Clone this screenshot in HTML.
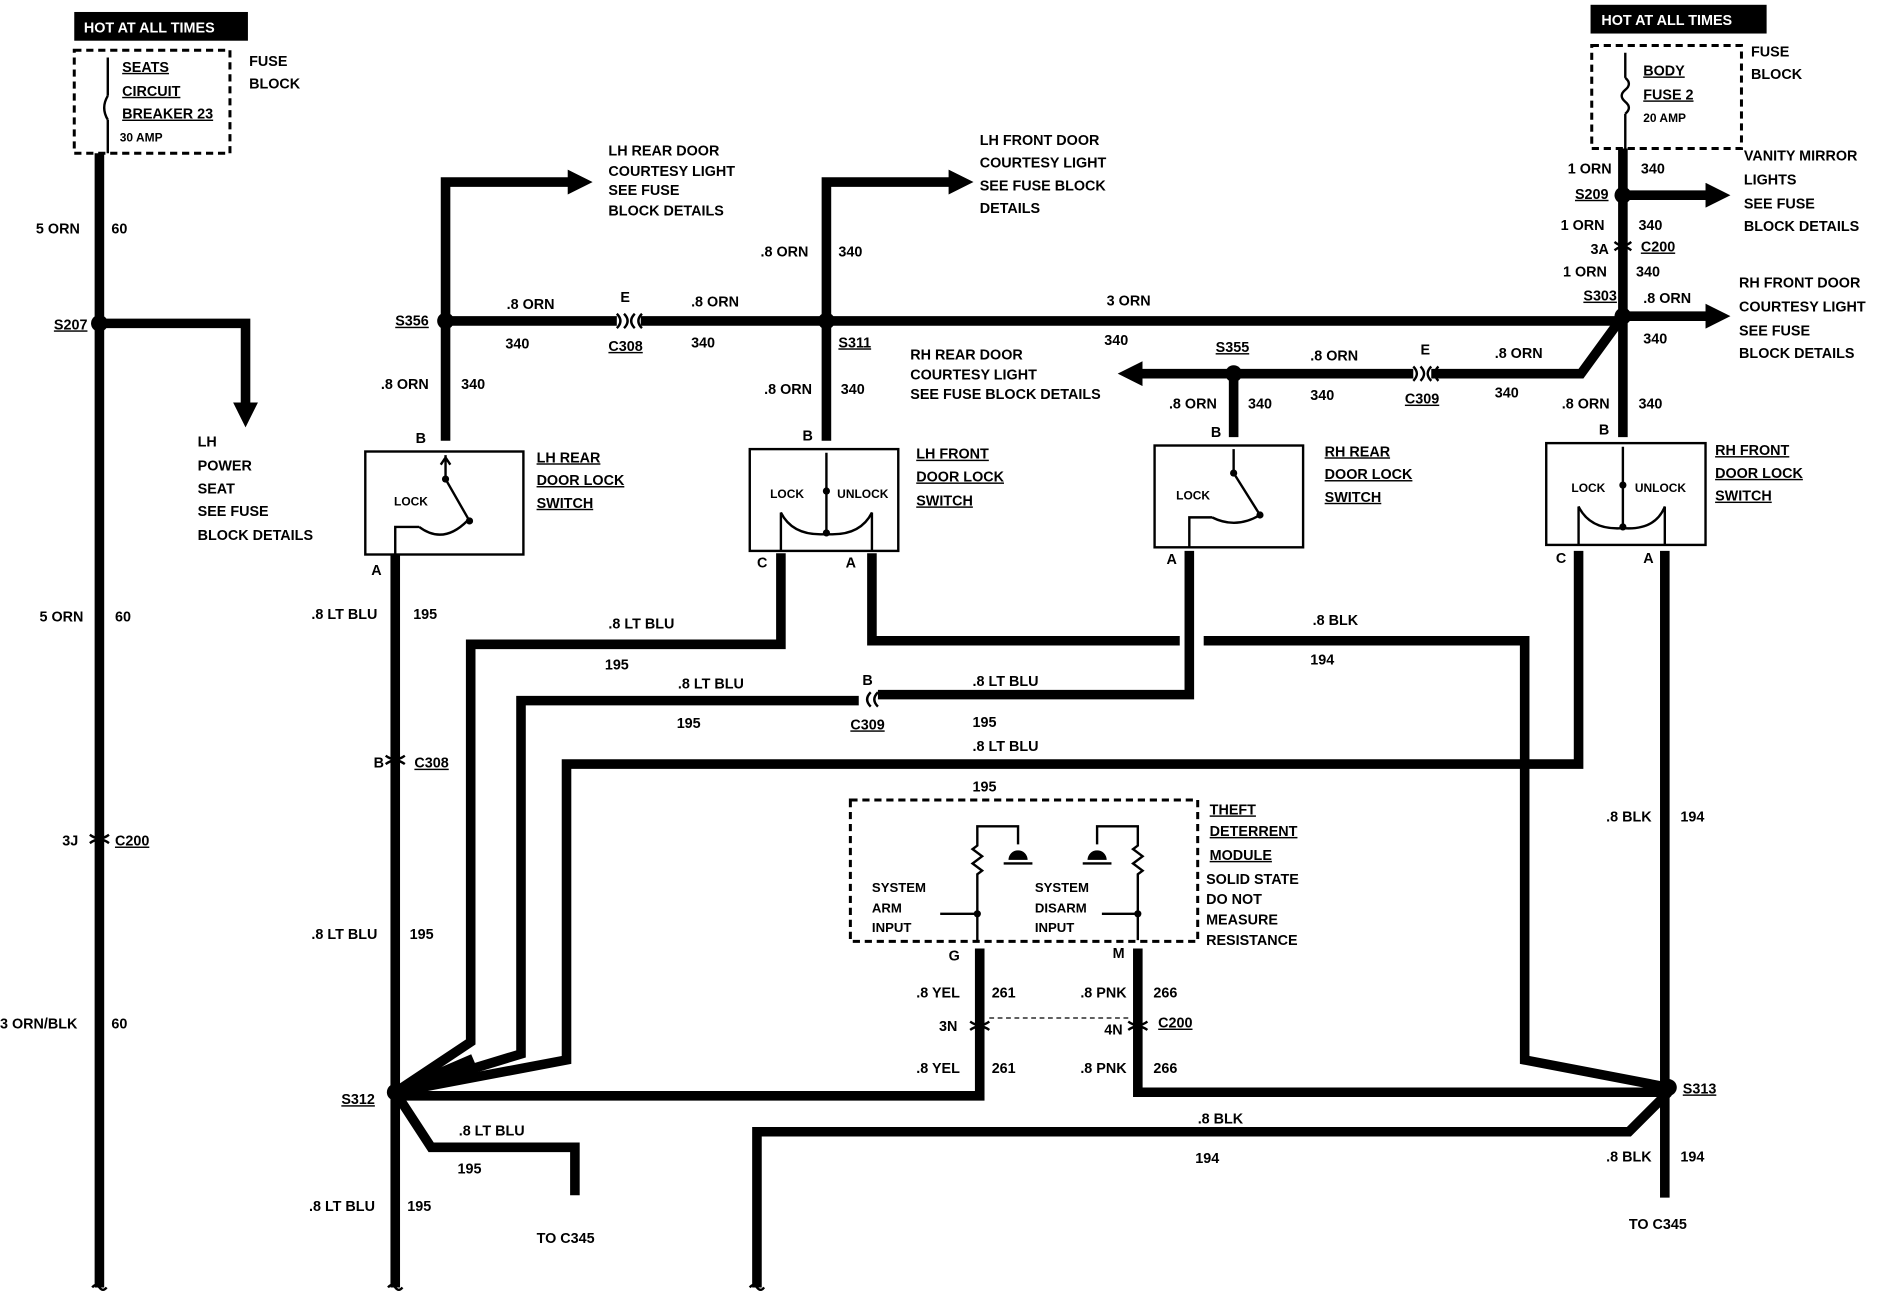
<!DOCTYPE html>
<html><head><meta charset="utf-8"><style>
html,body{margin:0;padding:0;background:#fff;}
svg{display:block;}
text{font-family:"Liberation Sans",sans-serif;font-weight:bold;font-size:12px;fill:#000;}
.w{stroke:#000;stroke-width:8;fill:none;stroke-linejoin:miter;}
.t{stroke:#000;stroke-width:2;fill:none;}
.d{stroke:#000;stroke-width:2.5;fill:none;stroke-dasharray:6 4;}
.u{text-decoration:underline;}
</style></head><body>
<svg width="1878" height="1312" viewBox="0 0 1568 1095.5" preserveAspectRatio="none" xmlns="http://www.w3.org/2000/svg">
<defs>
<marker id="ar" markerWidth="2.6" markerHeight="2.6" refX="0.5" refY="1.3" orient="auto" markerUnits="strokeWidth"><path d="M0,0 L2.6,1.3 L0,2.6 z" fill="#000"/></marker>
</defs>
<!-- left fuse -->
<rect x="62" y="10" width="145" height="24" fill="#000"/>
<text x="70" y="27" style="fill:#fff">HOT AT ALL TIMES</text>
<rect x="62" y="42" width="130" height="86" class="d"/>
<path class="t" d="M90,48 V80 M90,100 V128"/>
<path class="t" d="M90,80 q-6,10 0,20"/>
<text x="102" y="60" class="u">SEATS</text><text x="102" y="80" class="u">CIRCUIT</text><text x="102" y="99" class="u">BREAKER 23</text>
<text x="100" y="118" style="font-size:10px">30 AMP</text>
<text x="208" y="55">FUSE</text><text x="208" y="74">BLOCK</text>
<path class="w" d="M83,128 V1075"/>
<circle cx="83" cy="270" r="7"/>
<text x="45" y="275" class="u">S207</text>
<path class="w" d="M83,270 H205 V340" marker-end="url(#ar)"/>
<text x="30" y="195">5 ORN</text><text x="93" y="195">60</text>
<text x="165" y="373">LH</text><text x="165" y="393">POWER</text><text x="165" y="412">SEAT</text><text x="165" y="431">SEE FUSE</text><text x="165" y="451">BLOCK DETAILS</text>
<text x="33" y="519">5 ORN</text><text x="96" y="519">60</text>
<text x="52" y="706">3J</text><text x="96" y="706" class="u">C200</text>
<path class="t" d="M75,697 q8,6 16,0 M75,704 q8,-6 16,0"/>
<text x="0" y="859">3 ORN/BLK</text><text x="93" y="859">60</text>
<!-- right fuse -->
<rect x="1328" y="4" width="147" height="24" fill="#000"/>
<text x="1337" y="21" style="fill:#fff">HOT AT ALL TIMES</text>
<rect x="1329" y="38" width="125" height="86" class="d"/>
<path class="t" d="M1357,44 V65 M1357,95 V124"/><path class="t" d="M1357,65 q6,5 0,10 q-6,5 0,10 q6,5 0,10"/>
<text x="1372" y="63" class="u">BODY</text><text x="1372" y="83" class="u">FUSE 2</text><text x="1372" y="102" style="font-size:10px">20 AMP</text>
<text x="1462" y="47">FUSE</text><text x="1462" y="66">BLOCK</text>
<path class="w" d="M1355,124 V365"/>
<circle cx="1355" cy="163" r="7"/>
<path class="w" d="M1355,163 H1428" marker-end="url(#ar)"/>
<text x="1309" y="145">1 ORN</text><text x="1370" y="145">340</text>
<text x="1315" y="166" class="u">S209</text>
<text x="1456" y="134">VANITY MIRROR</text><text x="1456" y="154">LIGHTS</text><text x="1456" y="174">SEE FUSE</text><text x="1456" y="193">BLOCK DETAILS</text>
<text x="1303" y="192">1 ORN</text><text x="1368" y="192">340</text>
<text x="1328" y="212">3A</text><text x="1370" y="210" class="u">C200</text>
<path class="t" d="M1348,202 q7,6 14,0 M1348,209 q7,-6 14,0"/>
<text x="1305" y="231">1 ORN</text><text x="1366" y="231">340</text>
<text x="1322" y="251" class="u">S303</text>
<circle cx="1355" cy="264" r="7"/>
<path class="w" d="M1355,264 H1428" marker-end="url(#ar)"/>
<text x="1372" y="253">.8 ORN</text><text x="1372" y="287">340</text>
<text x="1452" y="240">RH FRONT DOOR</text><text x="1452" y="260">COURTESY LIGHT</text><text x="1452" y="280">SEE FUSE</text><text x="1452" y="299">BLOCK DETAILS</text>
<!-- main horizontal -->
<path class="w" d="M372,268 H515 M535,268 H1355"/>
<path class="t" d="M515,262 q6,6 0,12 M521,262 q6,6 0,12 M530,262 q-6,6 0,12 M536,262 q-6,6 0,12"/>
<circle cx="372" cy="268" r="7"/><circle cx="690" cy="268" r="7"/>
<text x="330" y="272" class="u">S356</text><text x="700" y="290" class="u">S311</text>
<text x="423" y="258">.8 ORN</text><text x="518" y="252">E</text><text x="577" y="256">.8 ORN</text>
<text x="422" y="291">340</text><text x="508" y="293" class="u">C308</text><text x="577" y="290">340</text>
<text x="924" y="255">3 ORN</text>
<path class="w" d="M372,268 V152 H478" marker-end="url(#ar)"/>
<text x="508" y="130">LH REAR DOOR</text><text x="508" y="147">COURTESY LIGHT</text><text x="508" y="163">SEE FUSE</text><text x="508" y="180">BLOCK DETAILS</text>
<path class="w" d="M690,268 V152 H796" marker-end="url(#ar)"/>
<text x="635" y="214">.8 ORN</text><text x="700" y="214">340</text>
<text x="818" y="121">LH FRONT DOOR</text><text x="818" y="140">COURTESY LIGHT</text><text x="818" y="159">SEE FUSE BLOCK</text><text x="818" y="178">DETAILS</text>
<!-- S355 -->
<path class="w" d="M1355,264 L1320,312 H1195 M1180,312 H950" marker-end="url(#ar)"/>
<path class="t" d="M1180,306 q6,6 0,12 M1186,306 q6,6 0,12 M1195,306 q-6,6 0,12 M1201,306 q-6,6 0,12"/>
<circle cx="1030" cy="312" r="7"/>
<text x="1015" y="294" class="u">S355</text>
<text x="1094" y="301">.8 ORN</text><text x="1186" y="296">E</text><text x="1248" y="299">.8 ORN</text>
<text x="1094" y="334">340</text><text x="1173" y="337" class="u">C309</text><text x="1248" y="332">340</text>
<text x="922" y="288">340</text>
<text x="760" y="300">RH REAR DOOR</text><text x="760" y="317">COURTESY LIGHT</text><text x="760" y="333">SEE FUSE BLOCK DETAILS</text>
<!-- verticals to switches -->
<path class="w" d="M372,268 V368 M690,268 V368 M1030,312 V365"/>
<text x="318" y="325">.8 ORN</text><text x="385" y="325">340</text>
<text x="638" y="329">.8 ORN</text><text x="702" y="329">340</text>
<text x="976" y="341">.8 ORN</text><text x="1042" y="341">340</text>
<text x="1304" y="341">.8 ORN</text><text x="1368" y="341">340</text>
<!-- switch boxes -->
<rect x="305" y="377" width="132" height="86" class="t"/>
<rect x="626" y="375" width="124" height="85" class="t"/>
<rect x="964" y="372" width="124" height="85" class="t"/>
<rect x="1291" y="370" width="133" height="85" class="t"/>
<text x="347" y="370">B</text><text x="670" y="368">B</text><text x="1011" y="365">B</text><text x="1335" y="363">B</text>
<text x="329" y="422" style="font-size:10px">LOCK</text>
<path class="t" d="M372,380 V400 L392,435 M368,388 l4,-6 l4,6 M330,463 V440 H350 M350,440 q20,15 40,-5"/>
<circle cx="372" cy="400" r="3"/><circle cx="392" cy="435" r="3"/>
<text x="643" y="416" style="font-size:10px">LOCK</text><text x="699" y="416" style="font-size:10px">UNLOCK</text>
<path class="t" d="M690,378 V445 M652,460 V428 q10,20 38,18 q28,2 38,-18 V460"/>
<circle cx="690" cy="410" r="3"/><circle cx="690" cy="445" r="3"/>
<text x="982" y="417" style="font-size:10px">LOCK</text>
<path class="t" d="M1030,375 V395 L1052,430 M993,457 V432 H1012 M1012,432 q20,10 40,-2"/>
<circle cx="1030" cy="395" r="3"/><circle cx="1052" cy="430" r="3"/>
<text x="1312" y="411" style="font-size:10px">LOCK</text><text x="1365" y="411" style="font-size:10px">UNLOCK</text>
<path class="t" d="M1355,373 V440 M1318,455 V423 q10,20 37,18 q27,2 35,-18 V455"/>
<circle cx="1355" cy="405" r="3"/><circle cx="1355" cy="440" r="3"/>
<text x="448" y="386" class="u">LH REAR</text><text x="448" y="405" class="u">DOOR LOCK</text><text x="448" y="424" class="u">SWITCH</text>
<text x="765" y="383" class="u">LH FRONT</text><text x="765" y="402" class="u">DOOR LOCK</text><text x="765" y="422" class="u">SWITCH</text>
<text x="1106" y="381" class="u">RH REAR</text><text x="1106" y="400" class="u">DOOR LOCK</text><text x="1106" y="419" class="u">SWITCH</text>
<text x="1432" y="380" class="u">RH FRONT</text><text x="1432" y="399" class="u">DOOR LOCK</text><text x="1432" y="418" class="u">SWITCH</text>
<text x="310" y="480">A</text><text x="632" y="474">C</text><text x="706" y="474">A</text><text x="974" y="471">A</text><text x="1299" y="470">C</text><text x="1372" y="470">A</text>
<!-- lower wires -->
<path class="w" d="M330,463 V1075"/>
<circle cx="330" cy="912" r="7"/>
<text x="285" y="922" class="u">S312</text>
<text x="260" y="517">.8 LT BLU</text><text x="345" y="517">195</text>
<text x="312" y="641">B</text><text x="346" y="641" class="u">C308</text>
<path class="t" d="M322,631 q8,6 16,0 M322,638 q8,-6 16,0"/>
<text x="260" y="784">.8 LT BLU</text><text x="342" y="784">195</text>
<text x="258" y="1011">.8 LT BLU</text><text x="340" y="1011">195</text>
<path class="w" d="M652,462 V538 H393 V870 L330,912"/>
<text x="508" y="525">.8 LT BLU</text><text x="505" y="559">195</text>
<path class="w" d="M728,462 V535 H985 M1005,535 H1273 V885 L1393,908"/>
<text x="1096" y="522">.8 BLK</text><text x="1094" y="555">194</text>
<path class="w" d="M993,460 V580 H733 M717,585 H435 V880 L330,912"/>
<path class="t" d="M727,578 q-6,6 0,12 M733,578 q-6,6 0,12"/>
<text x="566" y="575">.8 LT BLU</text><text x="565" y="608">195</text>
<text x="720" y="572">B</text><text x="710" y="609" class="u">C309</text>
<text x="812" y="573">.8 LT BLU</text><text x="812" y="607">195</text>
<path class="w" d="M1318,460 V638 H473 V885 L330,912"/>
<text x="812" y="627">.8 LT BLU</text><text x="812" y="661">195</text>
<path class="w" d="M330,912 L395,884 M1390,460 V1000"/>
<circle cx="1393" cy="908" r="7"/>
<text x="1405" y="913" class="u">S313</text>
<text x="1341" y="686">.8 BLK</text><text x="1403" y="686">194</text>
<text x="1341" y="970">.8 BLK</text><text x="1403" y="970">194</text>
<text x="1360" y="1026">TO C345</text>
<path class="w" d="M330,915 H818 V792"/>
<path class="w" d="M950,792 V912 H1393"/>
<path class="w" d="M1393,912 L1360,945 H632 V1075"/>
<text x="1000" y="938">.8 BLK</text><text x="998" y="971">194</text>
<path class="w" d="M330,912 L360,958 H480 V998"/>
<text x="383" y="948">.8 LT BLU</text><text x="382" y="980">195</text>
<text x="448" y="1038">TO C345</text>
<!-- theft module -->
<rect x="710" y="668" width="290" height="118" class="d"/>
<text x="1010" y="680" class="u">THEFT</text><text x="1010" y="698" class="u">DETERRENT</text><text x="1010" y="718" class="u">MODULE</text>
<text x="1007" y="738">SOLID STATE</text><text x="1007" y="755">DO NOT</text><text x="1007" y="772">MEASURE</text><text x="1007" y="789">RESISTANCE</text>
<text x="728" y="745" style="font-size:11px">SYSTEM</text><text x="728" y="762" style="font-size:11px">ARM</text><text x="728" y="778" style="font-size:11px">INPUT</text>
<text x="864" y="745" style="font-size:11px">SYSTEM</text><text x="864" y="762" style="font-size:11px">DISARM</text><text x="864" y="778" style="font-size:11px">INPUT</text>
<path class="t" d="M816,785 V730 l4,-3 -8,-6 8,-6 -8,-6 4,-3 V690 H850 V705 M816,763 H785"/>
<path class="t" d="M950,785 V730 l4,-3 -8,-6 8,-6 -8,-6 4,-3 V690 H916 V705 M950,763 H920"/>
<path d="M842,718 a8,8 0 0 1 16,0 z M838,720 h24 v2 h-24z" fill="#000"/>
<path d="M908,718 a8,8 0 0 1 16,0 z M904,720 h24 v2 h-24z" fill="#000"/>
<circle cx="816" cy="763" r="3"/><circle cx="950" cy="763" r="3"/>
<text x="792" y="802">G</text><text x="929" y="800">M</text>
<text x="765" y="833">.8 YEL</text><text x="828" y="833">261</text>
<text x="902" y="833">.8 PNK</text><text x="963" y="833">266</text>
<text x="784" y="861">3N</text><text x="922" y="864">4N</text><text x="967" y="858" class="u">C200</text>
<path class="t" d="M810,853 q8,6 16,0 M810,860 q8,-6 16,0 M942,853 q8,6 16,0 M942,860 q8,-6 16,0"/>
<path class="t" d="M826,850 H942" style="stroke-dasharray:4 3;stroke-width:1"/>
<text x="765" y="896">.8 YEL</text><text x="828" y="896">261</text>
<text x="902" y="896">.8 PNK</text><text x="963" y="896">266</text>
<!-- bottom break marks -->
<path class="t" d="M77,1075 q3,-4 6,0 q3,4 6,0 M324,1075 q3,-4 6,0 q3,4 6,0 M626,1075 q3,-4 6,0 q3,4 6,0"/>
</svg>
</body></html>
